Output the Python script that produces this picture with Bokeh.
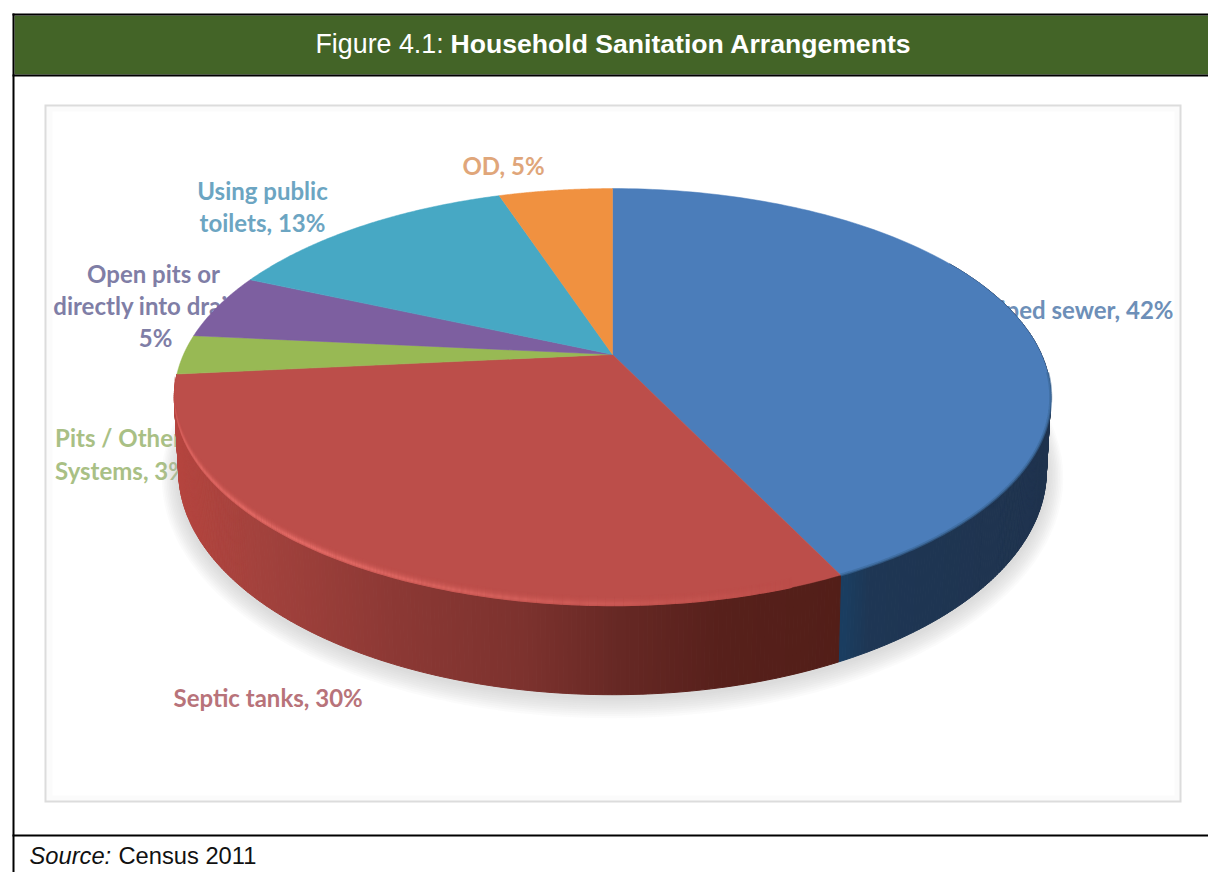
import numpy as np
from bokeh.core.properties import value
from bokeh.embed import file_html
from bokeh.models import ColumnDataSource, Range1d
from bokeh.plotting import figure
from bokeh.resources import INLINE

# Slices, clockwise from twelve o'clock
categories = ["Piped sewer", "Septic tanks", "Pits / Other Systems",
              "Open pits or directly into drains", "Using public toilets", "OD"]
shares = [42, 30, 3, 5, 13, 5]
top_colors = ["#4b7dba", "#bc4e4a", "#98b954", "#7d5fa0", "#47a8c4", "#f09140"]

# Data labels, one entry per drawn line
label_lines = ["Piped sewer, 42%", "Septic tanks, 30%", "Pits / Other", "Systems, 3%",
               "Open pits or", "directly into drains,", "5%",
               "Using public", "toilets, 13%", "OD, 5%"]
label_colors = ["#6d8fb8", "#b8737a", "#a9c085", "#a9c085",
                "#7f7ea6", "#7f7ea6", "#7f7ea6",
                "#6ca5c2", "#6ca5c2", "#e0a67a"]
label_x = [1173, 173, 118, 121, 153, 155, 155, 262, 262, 503]
label_y = [309, 697, 437, 470, 273, 305, 337, 190, 222, 165]
label_align = ["right", "left", "center", "center", "center", "center", "center",
               "center", "center", "center"]

title_regular = "Figure 4.1:"
title_bold = "Household Sanitation Arrangements"
source_italic = "Source:"
source_plain = "Census 2011"

# Perspective model of the tilted disc
CX, CY = 612.0, 354.0
KX, KY, PERSP = 429.0, 199.8, 0.204
DEPTH = 71.0


def rim(t):
    u, v = np.cos(t), np.sin(t)
    w = 1 + PERSP * u
    return CX + KX * v / w, CY - KY * u / w


def lower_rim(t):
    u, v = np.cos(t), np.sin(t)
    w = 1 + PERSP * u
    return CX + 0.99 * KX * v / w, CY - KY * u / w + DEPTH / w


def to_rgb(c):
    return np.array([int(c[i:i + 2], 16) for i in (1, 3, 5)], float)


def to_hex(rgb):
    return "#%02x%02x%02x" % tuple(int(round(v)) for v in rgb)


def hexes(xs, stops):
    px, cols = zip(*stops)
    rgb = np.array([to_rgb(c) for c in cols])
    return [to_hex([np.interp(x, px, rgb[:, k]) for k in range(3)]) for x in xs]


p = figure(width=1208, height=872, output_backend="svg", toolbar_location=None,
           x_range=Range1d(0, 1208), y_range=Range1d(872, 0), min_border=0)
p.axis.visible = False
p.grid.visible = False
p.outline_line_color = None
p.background_fill_color = "white"
p.border_fill_color = "white"

# Outer table: title band and rules
p.quad(left=[14], right=[1208], top=[15], bottom=[74], fill_color="#436427", line_color=None)
p.quad(left=[12], right=[1208], top=[13], bottom=[15], fill_color="black", line_color=None)
p.quad(left=[12], right=[1208], top=[74], bottom=[76], fill_color="black", line_color=None)
p.quad(left=[12], right=[14], top=[13], bottom=[872], fill_color="black", line_color=None)
p.quad(left=[12], right=[1208], top=[834], bottom=[836], fill_color="black", line_color=None)

# Chart frame with a faint inner glow
p.quad(left=[44], right=[1181], top=[104], bottom=[802], fill_color="#dcdcdc", line_color=None)
p.quad(left=[46], right=[1179], top=[106], bottom=[800], fill_color="#fbfbfb", line_color=None)
p.quad(left=[52], right=[1174], top=[111], bottom=[795], fill_color="#ffffff", line_color=None)

header_font = value("Liberation Sans")
p.text(x=[315], y=[43], text=[title_regular], text_font=header_font, text_font_size="26.8px",
       text_color="white", text_baseline="middle")
p.text(x=[450], y=[43], text=[title_bold], text_font=header_font, text_font_size="26.6px",
       text_font_style="bold", text_color="white", text_baseline="middle")
p.text(x=[29], y=[855], text=[source_italic], text_font=header_font, text_font_size="23.7px",
       text_font_style="italic", text_color="#111111", text_baseline="middle")
p.text(x=[118], y=[855], text=[source_plain], text_font=header_font, text_font_size="23.7px",
       text_color="#111111", text_baseline="middle")

# Labels sit under the disc, which hides parts of the longer ones
label_src = ColumnDataSource(dict(x=label_x, y=label_y, text=label_lines,
                                  color=label_colors, align=label_align))
p.text(x="x", y="y", text="text", source=label_src, text_color="color", text_align="align",
       text_baseline="middle", text_font=value("Lato"), text_font_size="24px",
       text_font_style="bold")

# Soft drop shadow under the body
ts = np.radians(np.linspace(0, 360, 361))
sx, sy = lower_rim(ts)
for e in np.linspace(17, 2, 10):
    fx = 1 + e / 438
    fy = 1 + e / 230
    p.patch(CX + (sx - CX) * fx, CY + 50 + (sy - CY - 50) * fy + 2,
            fill_color="#b4bcbc", fill_alpha=0.06, line_color=None)

# Cylinder wall, built of thin shaded strips
fractions = np.cumsum([0] + shares) / sum(shares)
angles = fractions * 2 * np.pi
wall_stops = {
    0: [(845, "#1a3d60"), (870, "#1e3654"), (1050, "#1f334e")],
    1: [(175, "#b5453f"), (250, "#a4423d"), (400, "#8b3834"), (520, "#7d322e"),
        (620, "#662824"), (720, "#57201b"), (848, "#521e18")],
}
spans = {0: (np.radians(60), angles[1]), 1: (angles[1], angles[2])}
for idx, (t0, t1) in spans.items():
    edges = np.linspace(t0, t1, int((t1 - t0) * 120) + 2)
    ax, ay = rim(edges)
    bx, by = lower_rim(edges)
    xs, ys = [], []
    for i in range(len(edges) - 1):
        xs.append([ax[i], ax[i + 1], bx[i + 1], bx[i]])
        ys.append([ay[i], ay[i + 1], by[i + 1], by[i]])
    cols = hexes((ax[:-1] + ax[1:]) / 2, wall_stops[idx])
    p.patches(xs, ys, fill_color=cols, line_color=cols, line_width=1)

# Top face
for i, c in enumerate(top_colors):
    t = np.linspace(angles[i], angles[i + 1], 120)
    rx, ry = rim(t)
    p.patch(np.r_[CX, rx], np.r_[CY, ry], fill_color=c, line_color=c, line_width=0.5)

# Soft step from the blue face to its wall
t = np.linspace(np.radians(95), angles[1], 120)
rx, ry = rim(t)
p.line(rx, ry, line_color="#3a6797", line_width=3, line_alpha=0.6)

# Bevel on the red slice: opaque strips blended from face colour to highlight
base = to_rgb(top_colors[1])
hi = to_rgb("#e56c67")
offsets = np.arange(0, 10)
profile = [0.55, 0.85, 1.0, 0.85, 0.62, 0.42, 0.27, 0.15, 0.07, 0.02]
edges = np.linspace(angles[1] + np.radians(6), angles[2] - np.radians(3), 110)
rx, ry = rim(edges)
xs, ys, cols = [], [], []
for k, off in enumerate(offsets):
    for i in range(len(edges) - 1):
        mid = np.degrees((edges[i] + edges[i + 1]) / 2)
        strength = np.interp(mid, [160, 215, 250, 262], [0.0, 1.0, 0.9, 0.4])
        xs.append([rx[i], rx[i + 1], rx[i + 1], rx[i]])
        ys.append([ry[i] - off - 0.5, ry[i + 1] - off - 0.5, ry[i + 1] - off + 0.7, ry[i] - off + 0.7])
        cols.append(to_hex(base + (hi - base) * strength * profile[k]))
p.patches(xs, ys, fill_color=cols, line_color=None)

open("out.html", "w").write(file_html(p, INLINE))
